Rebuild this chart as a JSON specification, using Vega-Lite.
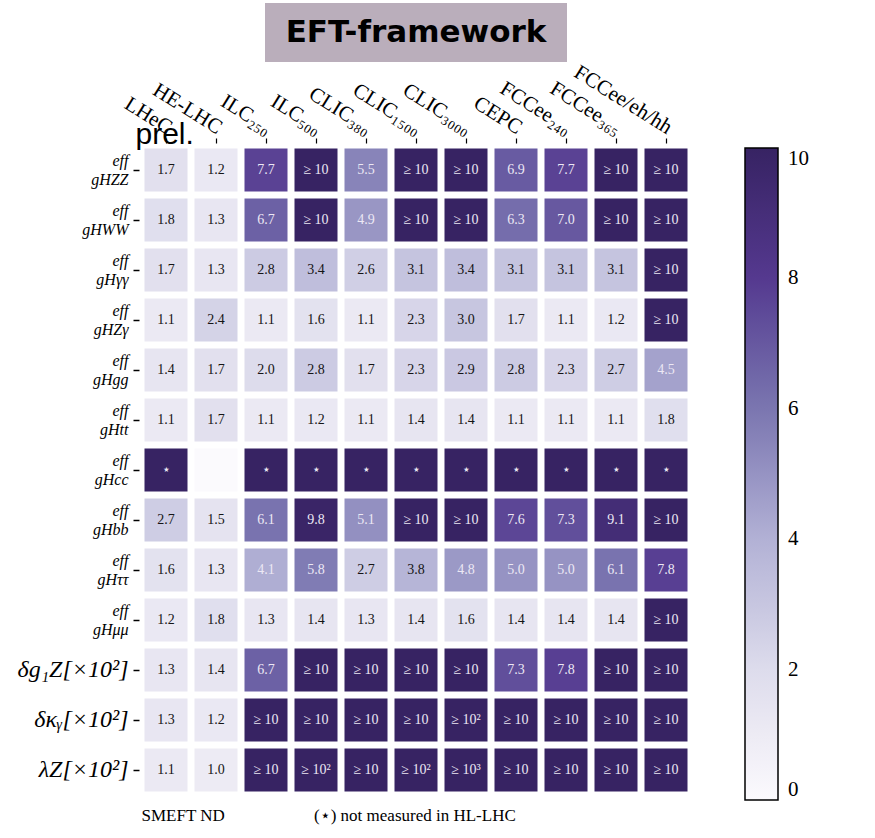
{
"$schema": "https://vega.github.io/schema/vega-lite/v6.json",
"background": "white",
"padding": {"left": 17, "top": 3, "right": 5, "bottom": 5},
"config": {"font": "Liberation Serif", "view": {"stroke": null}},
"bounds": "flush",
"center": true,
"spacing": 83,
"resolve": {"scale": {"color": "independent"}, "legend": {"color": "independent"}},
"vconcat": [
{
"width": 302, "height": 59,
"view": {"fill": "#baaebb", "stroke": null},
"data": {"values": [{"t": "EFT-framework"}]},
"mark": {"type": "text", "font": "DejaVu Sans", "fontWeight": "bold", "fontSize": 31, "color": "black", "baseline": "middle", "align": "center"},
"encoding": {"text": {"field": "t"}}
},
{
"width": {"step": 50}, "height": {"step": 50},
"data": {"values": [
{"r":"HZZ","c":"LHeC","v":1.7,"t":"1.7"},{"r":"HZZ","c":"HE-LHC","v":1.2,"t":"1.2"},{"r":"HZZ","c":"ILC₂₅₀","v":7.7,"t":"7.7"},{"r":"HZZ","c":"ILC₅₀₀","v":10,"t":"≥ 10"},{"r":"HZZ","c":"CLIC₃₈₀","v":5.5,"t":"5.5"},{"r":"HZZ","c":"CLIC₁₅₀₀","v":10,"t":"≥ 10"},{"r":"HZZ","c":"CLIC₃₀₀₀","v":10,"t":"≥ 10"},{"r":"HZZ","c":"CEPC","v":6.9,"t":"6.9"},{"r":"HZZ","c":"FCCee₂₄₀","v":7.7,"t":"7.7"},{"r":"HZZ","c":"FCCee₃₆₅","v":10,"t":"≥ 10"},{"r":"HZZ","c":"FCCee/eh/hh","v":10,"t":"≥ 10"},
{"r":"HWW","c":"LHeC","v":1.8,"t":"1.8"},{"r":"HWW","c":"HE-LHC","v":1.3,"t":"1.3"},{"r":"HWW","c":"ILC₂₅₀","v":6.7,"t":"6.7"},{"r":"HWW","c":"ILC₅₀₀","v":10,"t":"≥ 10"},{"r":"HWW","c":"CLIC₃₈₀","v":4.9,"t":"4.9"},{"r":"HWW","c":"CLIC₁₅₀₀","v":10,"t":"≥ 10"},{"r":"HWW","c":"CLIC₃₀₀₀","v":10,"t":"≥ 10"},{"r":"HWW","c":"CEPC","v":6.3,"t":"6.3"},{"r":"HWW","c":"FCCee₂₄₀","v":7.0,"t":"7.0"},{"r":"HWW","c":"FCCee₃₆₅","v":10,"t":"≥ 10"},{"r":"HWW","c":"FCCee/eh/hh","v":10,"t":"≥ 10"},
{"r":"Hγγ","c":"LHeC","v":1.7,"t":"1.7"},{"r":"Hγγ","c":"HE-LHC","v":1.3,"t":"1.3"},{"r":"Hγγ","c":"ILC₂₅₀","v":2.8,"t":"2.8"},{"r":"Hγγ","c":"ILC₅₀₀","v":3.4,"t":"3.4"},{"r":"Hγγ","c":"CLIC₃₈₀","v":2.6,"t":"2.6"},{"r":"Hγγ","c":"CLIC₁₅₀₀","v":3.1,"t":"3.1"},{"r":"Hγγ","c":"CLIC₃₀₀₀","v":3.4,"t":"3.4"},{"r":"Hγγ","c":"CEPC","v":3.1,"t":"3.1"},{"r":"Hγγ","c":"FCCee₂₄₀","v":3.1,"t":"3.1"},{"r":"Hγγ","c":"FCCee₃₆₅","v":3.1,"t":"3.1"},{"r":"Hγγ","c":"FCCee/eh/hh","v":10,"t":"≥ 10"},
{"r":"HZγ","c":"LHeC","v":1.1,"t":"1.1"},{"r":"HZγ","c":"HE-LHC","v":2.4,"t":"2.4"},{"r":"HZγ","c":"ILC₂₅₀","v":1.1,"t":"1.1"},{"r":"HZγ","c":"ILC₅₀₀","v":1.6,"t":"1.6"},{"r":"HZγ","c":"CLIC₃₈₀","v":1.1,"t":"1.1"},{"r":"HZγ","c":"CLIC₁₅₀₀","v":2.3,"t":"2.3"},{"r":"HZγ","c":"CLIC₃₀₀₀","v":3.0,"t":"3.0"},{"r":"HZγ","c":"CEPC","v":1.7,"t":"1.7"},{"r":"HZγ","c":"FCCee₂₄₀","v":1.1,"t":"1.1"},{"r":"HZγ","c":"FCCee₃₆₅","v":1.2,"t":"1.2"},{"r":"HZγ","c":"FCCee/eh/hh","v":10,"t":"≥ 10"},
{"r":"Hgg","c":"LHeC","v":1.4,"t":"1.4"},{"r":"Hgg","c":"HE-LHC","v":1.7,"t":"1.7"},{"r":"Hgg","c":"ILC₂₅₀","v":2.0,"t":"2.0"},{"r":"Hgg","c":"ILC₅₀₀","v":2.8,"t":"2.8"},{"r":"Hgg","c":"CLIC₃₈₀","v":1.7,"t":"1.7"},{"r":"Hgg","c":"CLIC₁₅₀₀","v":2.3,"t":"2.3"},{"r":"Hgg","c":"CLIC₃₀₀₀","v":2.9,"t":"2.9"},{"r":"Hgg","c":"CEPC","v":2.8,"t":"2.8"},{"r":"Hgg","c":"FCCee₂₄₀","v":2.3,"t":"2.3"},{"r":"Hgg","c":"FCCee₃₆₅","v":2.7,"t":"2.7"},{"r":"Hgg","c":"FCCee/eh/hh","v":4.5,"t":"4.5"},
{"r":"Htt","c":"LHeC","v":1.1,"t":"1.1"},{"r":"Htt","c":"HE-LHC","v":1.7,"t":"1.7"},{"r":"Htt","c":"ILC₂₅₀","v":1.1,"t":"1.1"},{"r":"Htt","c":"ILC₅₀₀","v":1.2,"t":"1.2"},{"r":"Htt","c":"CLIC₃₈₀","v":1.1,"t":"1.1"},{"r":"Htt","c":"CLIC₁₅₀₀","v":1.4,"t":"1.4"},{"r":"Htt","c":"CLIC₃₀₀₀","v":1.4,"t":"1.4"},{"r":"Htt","c":"CEPC","v":1.1,"t":"1.1"},{"r":"Htt","c":"FCCee₂₄₀","v":1.1,"t":"1.1"},{"r":"Htt","c":"FCCee₃₆₅","v":1.1,"t":"1.1"},{"r":"Htt","c":"FCCee/eh/hh","v":1.8,"t":"1.8"},
{"r":"Hcc","c":"LHeC","v":10,"t":"⋆"},{"r":"Hcc","c":"HE-LHC","v":0,"t":""},{"r":"Hcc","c":"ILC₂₅₀","v":10,"t":"⋆"},{"r":"Hcc","c":"ILC₅₀₀","v":10,"t":"⋆"},{"r":"Hcc","c":"CLIC₃₈₀","v":10,"t":"⋆"},{"r":"Hcc","c":"CLIC₁₅₀₀","v":10,"t":"⋆"},{"r":"Hcc","c":"CLIC₃₀₀₀","v":10,"t":"⋆"},{"r":"Hcc","c":"CEPC","v":10,"t":"⋆"},{"r":"Hcc","c":"FCCee₂₄₀","v":10,"t":"⋆"},{"r":"Hcc","c":"FCCee₃₆₅","v":10,"t":"⋆"},{"r":"Hcc","c":"FCCee/eh/hh","v":10,"t":"⋆"},
{"r":"Hbb","c":"LHeC","v":2.7,"t":"2.7"},{"r":"Hbb","c":"HE-LHC","v":1.5,"t":"1.5"},{"r":"Hbb","c":"ILC₂₅₀","v":6.1,"t":"6.1"},{"r":"Hbb","c":"ILC₅₀₀","v":9.8,"t":"9.8"},{"r":"Hbb","c":"CLIC₃₈₀","v":5.1,"t":"5.1"},{"r":"Hbb","c":"CLIC₁₅₀₀","v":10,"t":"≥ 10"},{"r":"Hbb","c":"CLIC₃₀₀₀","v":10,"t":"≥ 10"},{"r":"Hbb","c":"CEPC","v":7.6,"t":"7.6"},{"r":"Hbb","c":"FCCee₂₄₀","v":7.3,"t":"7.3"},{"r":"Hbb","c":"FCCee₃₆₅","v":9.1,"t":"9.1"},{"r":"Hbb","c":"FCCee/eh/hh","v":10,"t":"≥ 10"},
{"r":"Hττ","c":"LHeC","v":1.6,"t":"1.6"},{"r":"Hττ","c":"HE-LHC","v":1.3,"t":"1.3"},{"r":"Hττ","c":"ILC₂₅₀","v":4.1,"t":"4.1"},{"r":"Hττ","c":"ILC₅₀₀","v":5.8,"t":"5.8"},{"r":"Hττ","c":"CLIC₃₈₀","v":2.7,"t":"2.7"},{"r":"Hττ","c":"CLIC₁₅₀₀","v":3.8,"t":"3.8"},{"r":"Hττ","c":"CLIC₃₀₀₀","v":4.8,"t":"4.8"},{"r":"Hττ","c":"CEPC","v":5.0,"t":"5.0"},{"r":"Hττ","c":"FCCee₂₄₀","v":5.0,"t":"5.0"},{"r":"Hττ","c":"FCCee₃₆₅","v":6.1,"t":"6.1"},{"r":"Hττ","c":"FCCee/eh/hh","v":7.8,"t":"7.8"},
{"r":"Hμμ","c":"LHeC","v":1.2,"t":"1.2"},{"r":"Hμμ","c":"HE-LHC","v":1.8,"t":"1.8"},{"r":"Hμμ","c":"ILC₂₅₀","v":1.3,"t":"1.3"},{"r":"Hμμ","c":"ILC₅₀₀","v":1.4,"t":"1.4"},{"r":"Hμμ","c":"CLIC₃₈₀","v":1.3,"t":"1.3"},{"r":"Hμμ","c":"CLIC₁₅₀₀","v":1.4,"t":"1.4"},{"r":"Hμμ","c":"CLIC₃₀₀₀","v":1.6,"t":"1.6"},{"r":"Hμμ","c":"CEPC","v":1.4,"t":"1.4"},{"r":"Hμμ","c":"FCCee₂₄₀","v":1.4,"t":"1.4"},{"r":"Hμμ","c":"FCCee₃₆₅","v":1.4,"t":"1.4"},{"r":"Hμμ","c":"FCCee/eh/hh","v":10,"t":"≥ 10"},
{"r":"dg1Z","c":"LHeC","v":1.3,"t":"1.3"},{"r":"dg1Z","c":"HE-LHC","v":1.4,"t":"1.4"},{"r":"dg1Z","c":"ILC₂₅₀","v":6.7,"t":"6.7"},{"r":"dg1Z","c":"ILC₅₀₀","v":10,"t":"≥ 10"},{"r":"dg1Z","c":"CLIC₃₈₀","v":10,"t":"≥ 10"},{"r":"dg1Z","c":"CLIC₁₅₀₀","v":10,"t":"≥ 10"},{"r":"dg1Z","c":"CLIC₃₀₀₀","v":10,"t":"≥ 10"},{"r":"dg1Z","c":"CEPC","v":7.3,"t":"7.3"},{"r":"dg1Z","c":"FCCee₂₄₀","v":7.8,"t":"7.8"},{"r":"dg1Z","c":"FCCee₃₆₅","v":10,"t":"≥ 10"},{"r":"dg1Z","c":"FCCee/eh/hh","v":10,"t":"≥ 10"},
{"r":"dkg","c":"LHeC","v":1.3,"t":"1.3"},{"r":"dkg","c":"HE-LHC","v":1.2,"t":"1.2"},{"r":"dkg","c":"ILC₂₅₀","v":10,"t":"≥ 10"},{"r":"dkg","c":"ILC₅₀₀","v":10,"t":"≥ 10"},{"r":"dkg","c":"CLIC₃₈₀","v":10,"t":"≥ 10"},{"r":"dkg","c":"CLIC₁₅₀₀","v":10,"t":"≥ 10"},{"r":"dkg","c":"CLIC₃₀₀₀","v":10,"t":"≥ 10²"},{"r":"dkg","c":"CEPC","v":10,"t":"≥ 10"},{"r":"dkg","c":"FCCee₂₄₀","v":10,"t":"≥ 10"},{"r":"dkg","c":"FCCee₃₆₅","v":10,"t":"≥ 10"},{"r":"dkg","c":"FCCee/eh/hh","v":10,"t":"≥ 10"},
{"r":"lZ","c":"LHeC","v":1.1,"t":"1.1"},{"r":"lZ","c":"HE-LHC","v":1.0,"t":"1.0"},{"r":"lZ","c":"ILC₂₅₀","v":10,"t":"≥ 10"},{"r":"lZ","c":"ILC₅₀₀","v":10,"t":"≥ 10²"},{"r":"lZ","c":"CLIC₃₈₀","v":10,"t":"≥ 10"},{"r":"lZ","c":"CLIC₁₅₀₀","v":10,"t":"≥ 10²"},{"r":"lZ","c":"CLIC₃₀₀₀","v":10,"t":"≥ 10³"},{"r":"lZ","c":"CEPC","v":10,"t":"≥ 10"},{"r":"lZ","c":"FCCee₂₄₀","v":10,"t":"≥ 10"},{"r":"lZ","c":"FCCee₃₆₅","v":10,"t":"≥ 10"},{"r":"lZ","c":"FCCee/eh/hh","v":10,"t":"≥ 10"}
]},
"layer": [
{
"mark": {"type": "rect"},
"encoding": {
"x": {"field": "c", "type": "nominal", "sort": ["LHeC","HE-LHC","ILC₂₅₀","ILC₅₀₀","CLIC₃₈₀","CLIC₁₅₀₀","CLIC₃₀₀₀","CEPC","FCCee₂₄₀","FCCee₃₆₅","FCCee/eh/hh"], "scale": {"paddingInner": 0.14, "paddingOuter": 0.07},
"axis": {"orient": "top", "title": null, "labelAngle": 32, "labelAlign": "right", "labelBaseline": "middle", "labelFont": "Liberation Serif", "labelFontSize": 21, "labelColor": "black", "labelPadding": 9, "labelOffset": 4, "tickSize": 5, "tickColor": "black", "tickWidth": 1.2, "domain": false, "offset": 2}},
"y": {"field": "r", "type": "nominal", "sort": ["HZZ","HWW","Hγγ","HZγ","Hgg","Htt","Hcc","Hbb","Hττ","Hμμ","dg1Z","dkg","lZ"], "scale": {"paddingInner": 0.14, "paddingOuter": 0.07},
"axis": {"title": "prel.", "titleAngle": 0, "titleX": -4, "titleY": -2, "titleAlign": "left", "titleBaseline": "alphabetic", "titleFont": "Liberation Sans", "titleFontSize": 30, "titleFontWeight": "normal", "titleColor": "black",
"labelExpr": "datum.value == 'dg1Z' ? 'δg₁Z[×10²]' : datum.value == 'dkg' ? 'δκᵧ[×10²]' : datum.value == 'lZ' ? 'λZ[×10²]' : ['eff\u00a0\u00a0', 'g' + datum.value]",
"labelFont": "Liberation Serif", "labelFontStyle": "italic",
"labelFontSize": {"condition": {"test": "datum.value == 'dg1Z' || datum.value == 'dkg' || datum.value == 'lZ'", "value": 24}, "value": 16},
"labelOffset": {"condition": {"test": "datum.value == 'dg1Z' || datum.value == 'dkg' || datum.value == 'lZ'", "value": 0}, "value": -9},
"labelLineHeight": 19, "labelColor": "black", "labelPadding": 5, "tickSize": 6, "tickColor": "black", "tickWidth": 1.5, "domain": false, "offset": 2}},
"color": {"field": "v", "type": "quantitative", "scale": {"domain": [0,2,4,6,8,10], "range": ["#fbfafd","#dddcec","#b2b1d5","#7b76b0","#55398f","#372363"], "clamp": true},
"legend": {"title": null, "orient": "right", "offset": 51, "padding": 3, "direction": "vertical", "gradientLength": 652, "gradientThickness": 33, "gradientStrokeColor": "black", "gradientStrokeWidth": 1.5, "values": [0,2,4,6,8,10], "labelFont": "Liberation Serif", "labelFontSize": 21, "labelColor": "black", "labelOffset": 10}}
}
},
{
"mark": {"type": "text", "font": "Liberation Serif", "fontSize": 14, "baseline": "middle"},
"encoding": {
"x": {"field": "c", "type": "nominal", "sort": ["LHeC","HE-LHC","ILC₂₅₀","ILC₅₀₀","CLIC₃₈₀","CLIC₁₅₀₀","CLIC₃₀₀₀","CEPC","FCCee₂₄₀","FCCee₃₆₅","FCCee/eh/hh"],
"axis": {"orient": "bottom", "labels": false, "ticks": false, "domain": false, "title": "SMEFT ND\u00a0\u00a0\u00a0\u00a0\u00a0\u00a0\u00a0\u00a0\u00a0\u00a0\u00a0\u00a0\u00a0\u00a0\u00a0\u00a0\u00a0\u00a0\u00a0\u00a0\u00a0(⋆) not measured in HL-LHC", "titleFont": "Liberation Serif", "titleFontSize": 17, "titleFontWeight": "normal", "titleColor": "black", "titleAnchor": "start", "titlePadding": 12}},
"y": {"field": "r", "type": "nominal", "sort": ["HZZ","HWW","Hγγ","HZγ","Hgg","Htt","Hcc","Hbb","Hττ","Hμμ","dg1Z","dkg","lZ"]},
"text": {"field": "t"},
"color": {"condition": {"test": "datum.v >= 4", "value": "#ece8f4"}, "value": "#151515"}
}
}
],
"resolve": {"axis": {"x": "independent"}}
}
]
}
